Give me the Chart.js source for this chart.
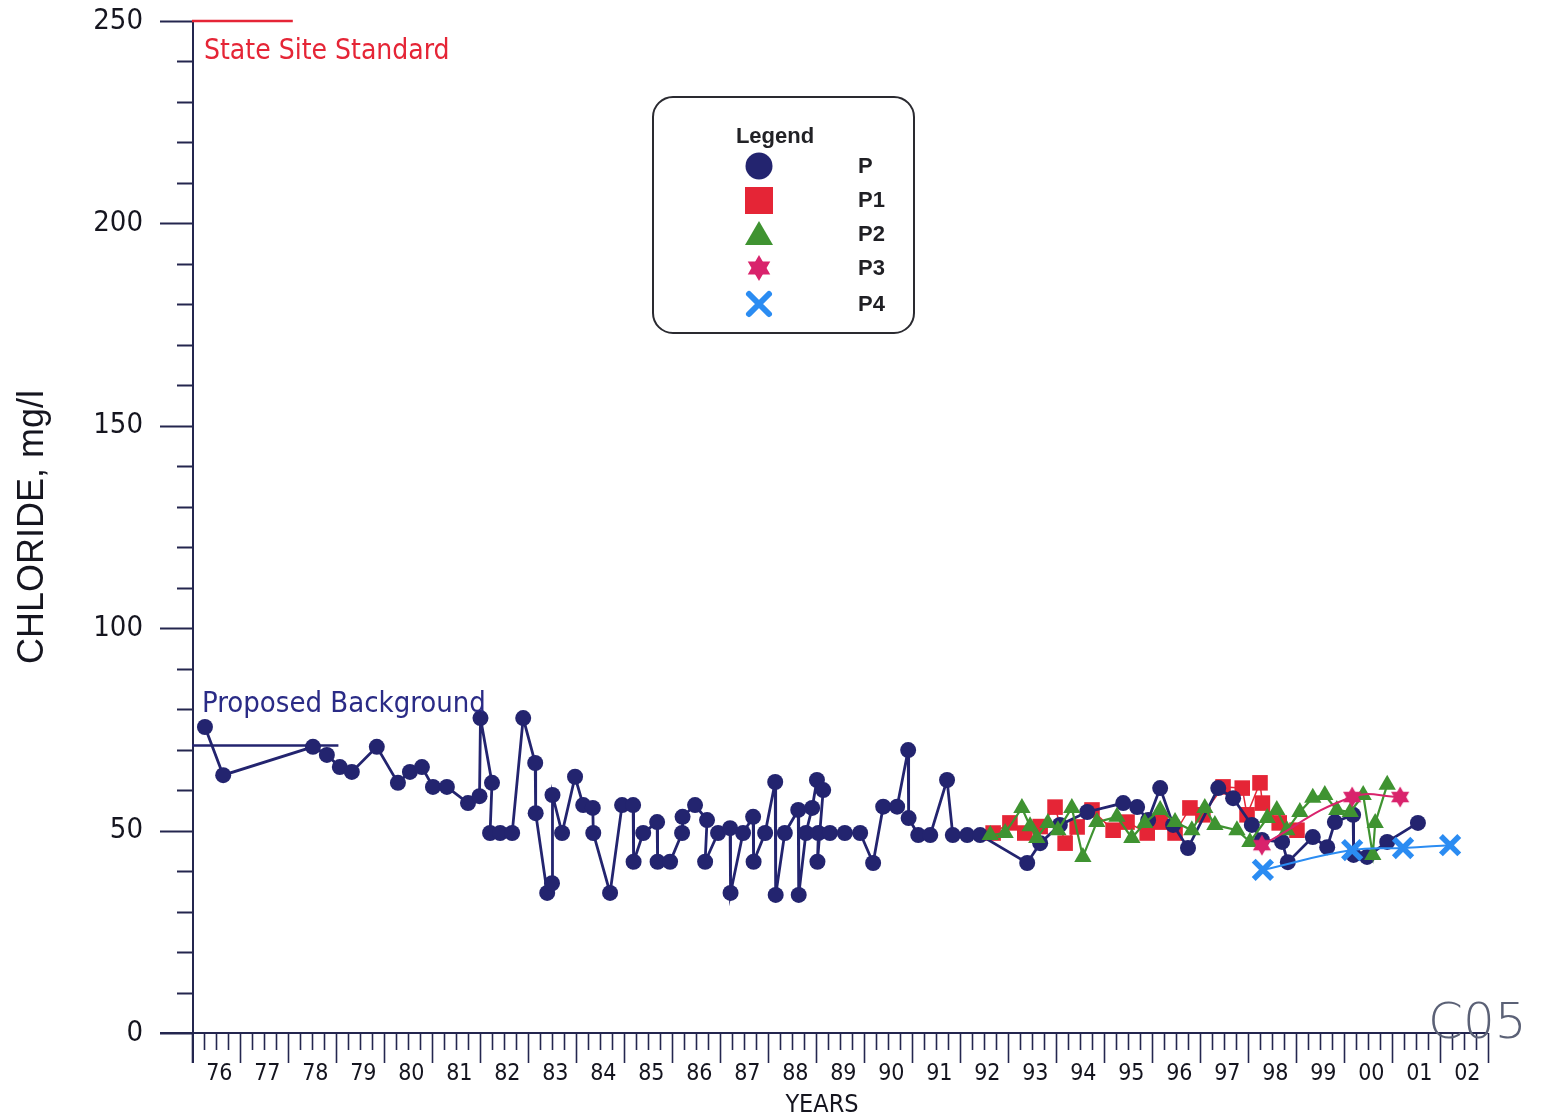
<!DOCTYPE html>
<html>
<head>
<meta charset="utf-8">
<title>Chloride trend</title>
<script src="https://cdn.jsdelivr.net/npm/chart.js@4.4.1/dist/chart.umd.min.js"></script>
<style>
  html, body { margin: 0; padding: 0; background: #ffffff; }
  #wrap { width: 1546px; height: 1119px; position: relative; }
  canvas { display: block; }
</style>
</head>
<body>
<div id="wrap"><canvas id="chart" width="1546" height="1119"></canvas></div>
<script>
// ---- Year axis ----
const yearStart = 1976;
const yearEnd = 2003;
const yearLabels = ['76','77','78','79','80','81','82','83','84','85','86','87','88','89',
                    '90','91','92','93','94','95','96','97','98','99','00','01','02'];

// ---- Chloride axis ----
const chlorideMin = 0;
const chlorideMax = 250;
const chlorideLabels = [0, 50, 100, 150, 200, 250];

// ---- Reference lines ----
const standardYears = [1976, 1978.1];
const standardValues = [250, 250];
const backgroundYears = [1976, 1979.05];
const backgroundValues = [71, 71];

// ---- Well P (chloride, mg/l) ----
const pYears = [
  1976.27, 1976.65, 1978.52, 1978.81, 1979.08, 1979.33, 1979.85, 1980.29, 1980.54, 1980.79,
  1981.02, 1981.31, 1981.75, 1981.99, 1982.01, 1982.25, 1982.21, 1982.42, 1982.67, 1982.90,
  1983.15, 1983.16, 1983.40, 1983.50, 1983.51, 1983.71, 1983.98, 1984.15, 1984.35, 1984.36,
  1984.71, 1984.96, 1985.19, 1985.20, 1985.40, 1985.69, 1985.70, 1985.96, 1986.21, 1986.22,
  1986.48, 1986.73, 1986.69, 1986.96, 1987.21, 1987.22, 1987.48, 1987.69, 1987.70, 1987.94,
  1988.15, 1988.16, 1988.35, 1988.63, 1988.64, 1988.79, 1988.92, 1989.02, 1989.15, 1989.03,
  1989.05, 1989.29, 1989.60, 1989.92, 1990.19, 1990.40, 1990.69, 1990.92, 1990.93, 1991.13,
  1991.38, 1991.73, 1991.85, 1992.15, 1992.42, 1993.40, 1993.67, 1994.08, 1994.65, 1995.40,
  1995.69, 1995.92, 1996.17, 1996.44, 1996.75, 1997.38, 1997.69, 1998.08, 1998.29, 1998.71,
  1998.83, 1999.35, 1999.65, 1999.81, 2000.19, 2000.20, 2000.48, 2000.90, 2001.54
];
const pValues = [
  75.6, 63.7, 70.7, 68.7, 65.7, 64.5, 70.7, 61.8, 64.5, 65.7,
  60.8, 60.8, 56.8, 58.5, 77.8, 61.8, 49.4, 49.4, 49.4, 77.8,
  66.7, 54.3, 34.6, 37.0, 58.8, 49.4, 63.3, 56.3, 55.6, 49.4,
  34.6, 56.3, 56.3, 42.3, 49.4, 52.1, 42.3, 42.3, 49.4, 53.4,
  56.3, 52.6, 42.3, 49.4, 50.6, 34.6, 49.4, 53.4, 42.3, 49.4,
  62.0, 34.1, 49.4, 55.1, 34.1, 49.4, 55.6, 62.5, 60.0, 42.3,
  49.4, 49.4, 49.4, 49.4, 42.0, 55.9, 55.9, 69.9, 53.1, 48.9,
  48.9, 62.5, 48.9, 48.9, 48.9, 42.0, 46.9, 51.4, 54.6, 56.8,
  55.8, 52.6, 60.5, 51.4, 45.7, 60.5, 58.0, 51.4, 47.7, 47.2,
  42.2, 48.4, 45.9, 52.1, 53.9, 44.0, 43.5, 47.2, 51.9
];

// ---- Well P1 ----
const p1Years = [
  1992.69, 1993.04, 1993.35, 1993.67, 1993.98, 1994.19, 1994.44, 1994.75, 1995.19, 1995.48,
  1995.90, 1996.17, 1996.48, 1996.79, 1997.06, 1997.48, 1997.88, 1997.98, 1998.25, 1998.30,
  1998.65, 1999.02
];
const p1Values = [
  49.4, 51.9, 49.4, 51.0, 55.8, 46.9, 50.9, 55.1, 50.1, 52.1,
  49.4, 52.1, 49.4, 55.6, 53.9, 60.8, 60.5, 53.9, 61.8, 56.8,
  51.9, 50.1
];

// ---- Well P2 ----
const p2Years = [
  1992.63, 1992.94, 1993.29, 1993.46, 1993.60, 1993.83, 1994.04, 1994.33, 1994.56, 1994.85,
  1995.27, 1995.58, 1995.85, 1996.17, 1996.48, 1996.83, 1997.10, 1997.31, 1997.77, 1998.04,
  1998.40, 1998.60, 1998.81, 1999.08, 1999.35, 1999.60, 1999.85, 2000.13, 2000.40, 2000.60,
  2000.65, 2000.90
];
const p2Values = [
  48.9, 49.4, 55.6, 51.1, 48.2, 51.9, 50.1, 55.6, 43.5, 52.1,
  53.4, 48.2, 51.9, 55.1, 52.1, 50.1, 55.6, 51.4, 50.1, 47.2,
  53.1, 55.1, 50.1, 54.6, 58.1, 58.8, 55.1, 54.6, 58.8, 44.0,
  51.9, 61.3
];

// ---- Well P3 ----
const p3Years = [1998.29, 2000.17, 2001.17];
const p3Values = [46.4, 58.3, 58.3];

// ---- Well P4 ----
const p4Years = [1998.31, 2000.17, 2001.23, 2002.21];
const p4Values = [40.3, 45.2, 45.7, 46.4];

// ---- Colours and fonts ----
const navy = '#23246f';
const red = '#e52536';
const green = '#3f9331';
const pink = '#d9236c';
const blue = '#2b8cf2';
const axisColor = '#24264f';
const inkColor = '#15151f';
const condensed = '"DejaVu Sans Condensed", "DejaVu Sans", sans-serif';
const arial = '"Liberation Sans", Arial, sans-serif';

function pairs(xs, ys) { return xs.map((x, i) => ({ x: x, y: ys[i] })); }

// six-pointed filled star used as the P3 marker
function drawHexagram(c, cx, cy, r, color) {
  c.save();
  c.fillStyle = color;
  for (const rot of [-Math.PI / 2, Math.PI / 2]) {
    c.beginPath();
    for (let k = 0; k < 3; k++) {
      const a = rot + k * 2 * Math.PI / 3;
      const px = cx + r * Math.cos(a), py = cy + r * Math.sin(a);
      if (k === 0) c.moveTo(px, py); else c.lineTo(px, py);
    }
    c.closePath();
    c.fill();
  }
  c.restore();
}
const starMarker = document.createElement('canvas');
starMarker.width = 22; starMarker.height = 22;
drawHexagram(starMarker.getContext('2d'), 11, 11, 10.5, pink);

// axes, tick marks, notes and the legend panel
const frame = {
  id: 'frame',
  beforeDatasetsDraw(chart) {
    const c = chart.ctx, xs = chart.scales.x, ys = chart.scales.y;
    const x0 = xs.getPixelForValue(yearStart), x1 = xs.getPixelForValue(yearEnd);
    const yTop = ys.getPixelForValue(chlorideMax), yBot = ys.getPixelForValue(chlorideMin);
    c.save();
    c.strokeStyle = axisColor;
    c.lineWidth = 2;
    c.beginPath();
    // vertical axis
    c.moveTo(x0 + 1, yTop); c.lineTo(x0 + 1, yBot + 30);
    // horizontal axis
    c.moveTo(x0 - 32, yBot); c.lineTo(x1, yBot);
    // chloride ticks every 10
    for (let v = chlorideMin; v <= chlorideMax; v += 10) {
      const py = Math.round(ys.getPixelForValue(v)) + 0.5;
      const len = v % 50 === 0 ? 33 : 16;
      c.moveTo(x0 + 1 - len, py); c.lineTo(x0 + 1, py);
    }
    c.stroke();
    // quarter-year ticks
    c.lineWidth = 1.6;
    c.beginPath();
    for (let q = 0; q <= (yearEnd - yearStart) * 4; q++) {
      const px = Math.round(xs.getPixelForValue(yearStart + q / 4)) + 0.5;
      const len = q % 4 === 0 ? 30 : 17;
      c.moveTo(px, yBot); c.lineTo(px, yBot + len);
    }
    c.stroke();
    c.restore();
  },
  afterDraw(chart) {
    const c = chart.ctx, xs = chart.scales.x, ys = chart.scales.y;
    c.save();
    // axis titles
    c.fillStyle = inkColor;
    c.font = '25px ' + condensed;
    c.textAlign = 'center'; c.textBaseline = 'middle';
    c.fillText('YEARS', 822, 1105);
    c.save();
    c.translate(33, (ys.top + ys.bottom) / 2);
    c.rotate(-Math.PI / 2);
    c.font = '36px ' + arial;
    c.fillText('CHLORIDE, mg/l', 0, 0);
    c.restore();

    // reference line notes
    c.textAlign = 'left';
    c.font = '28px ' + condensed;
    c.fillStyle = red;
    c.fillText('State Site Standard', xs.getPixelForValue(yearStart) + 12, ys.getPixelForValue(chlorideMax) + 31);
    c.font = '29px ' + condensed;
    c.fillStyle = '#2a2b86';
    c.fillText('Proposed Background', xs.getPixelForValue(yearStart) + 10, ys.getPixelForValue(backgroundValues[0]) - 41);

    // sheet mark
    c.font = '200 50px "DejaVu Sans", sans-serif';
    c.fillStyle = '#5b6176';
    c.textBaseline = 'alphabetic';
    c.fillText('C05', 1428, 1038);

    // legend panel
    const bx = 653, by = 97, bw = 261, bh = 236, r = 20;
    c.beginPath();
    c.moveTo(bx + r, by);
    c.arcTo(bx + bw, by, bx + bw, by + bh, r);
    c.arcTo(bx + bw, by + bh, bx, by + bh, r);
    c.arcTo(bx, by + bh, bx, by, r);
    c.arcTo(bx, by, bx + bw, by, r);
    c.closePath();
    c.fillStyle = '#ffffff';
    c.fill();
    c.lineWidth = 2;
    c.strokeStyle = '#2a2a30';
    c.stroke();

    c.fillStyle = '#222226';
    c.font = 'bold 22px ' + arial;
    c.textAlign = 'center'; c.textBaseline = 'middle';
    c.fillText('Legend', 775, 137);

    const mx = 759;
    const rows = [166, 200, 234, 268, 304];
    // P
    c.fillStyle = navy;
    c.beginPath(); c.arc(mx, rows[0], 13.5, 0, Math.PI * 2); c.fill();
    // P1
    c.fillStyle = red;
    c.fillRect(mx - 14, rows[1] - 13, 28, 27);
    // P2
    c.fillStyle = green;
    c.beginPath();
    c.moveTo(mx, rows[2] - 13); c.lineTo(mx + 14, rows[2] + 11); c.lineTo(mx - 14, rows[2] + 11);
    c.closePath(); c.fill();
    // P3
    drawHexagram(c, mx, rows[3], 13, pink);
    // P4
    c.strokeStyle = blue; c.lineWidth = 6; c.lineCap = 'round';
    c.beginPath();
    c.moveTo(mx - 10, rows[4] - 10); c.lineTo(mx + 10, rows[4] + 10);
    c.moveTo(mx + 10, rows[4] - 10); c.lineTo(mx - 10, rows[4] + 10);
    c.stroke();

    c.fillStyle = '#1f1f24';
    c.font = 'bold 22px ' + arial;
    c.textAlign = 'left';
    const names = ['P', 'P1', 'P2', 'P3', 'P4'];
    names.forEach((n, i) => c.fillText(n, 858, rows[i] + 1));
    c.restore();
  }
};

new Chart(document.getElementById('chart').getContext('2d'), {
  type: 'line',
  data: {
    datasets: [
      { label: 'State Site Standard', data: pairs(standardYears, standardValues),
        borderColor: red, borderWidth: 2.5, pointRadius: 0, clip: false, order: 9 },
      { label: 'Proposed Background', data: pairs(backgroundYears, backgroundValues),
        borderColor: navy, borderWidth: 2.5, pointRadius: 0, clip: false, order: 8 },
      { label: 'P1', data: pairs(p1Years, p1Values),
        borderColor: red, backgroundColor: red, borderWidth: 1.5,
        pointStyle: 'rect', pointRadius: 11, pointBorderWidth: 0, order: 5 },
      { label: 'P', data: pairs(pYears, pValues),
        borderColor: navy, backgroundColor: navy, borderWidth: 2.8,
        pointStyle: 'circle', pointRadius: 8, pointBorderWidth: 0, order: 4 },
      { label: 'P2', data: pairs(p2Years, p2Values),
        borderColor: green, backgroundColor: green, borderWidth: 2.2,
        pointStyle: 'triangle', pointRadius: 10, pointBorderWidth: 0, order: 3 },
      { label: 'P3', data: pairs(p3Years, p3Values),
        borderColor: pink, backgroundColor: pink, borderWidth: 2,
        pointStyle: starMarker, tension: 0.45, order: 2 },
      { label: 'P4', data: pairs(p4Years, p4Values),
        borderColor: blue, backgroundColor: blue, borderWidth: 2,
        pointStyle: 'crossRot', pointRadius: 13, pointBorderWidth: 5.5, pointBorderColor: blue,
        tension: 0.45, order: 1 }
    ]
  },
  options: {
    responsive: false,
    animation: false,
    events: [],
    layout: { padding: { top: 21, right: 58, left: 0, bottom: 0 } },
    plugins: { legend: { display: false }, tooltip: { enabled: false } },
    scales: {
      x: {
        type: 'linear', min: yearStart, max: yearEnd,
        grid: { display: false, drawTicks: false },
        border: { display: false },
        afterFit(s) { s.height = 86; s.paddingLeft = 0; s.paddingRight = 0; },
        afterBuildTicks(s) { s.ticks = yearLabels.map((l, i) => ({ value: yearStart + i + 0.57 })); },
        ticks: {
          autoSkip: false, maxRotation: 0, minRotation: 0, padding: 27,
          color: inkColor, font: { family: condensed, size: 23 },
          callback: (v, i) => yearLabels[i]
        }
      },
      y: {
        type: 'linear', min: chlorideMin, max: chlorideMax,
        grid: { display: false, drawTicks: false },
        border: { display: false },
        afterFit(s) { s.width = 192; s.paddingTop = 0; s.paddingBottom = 0; },
        afterBuildTicks(s) { s.ticks = chlorideLabels.map(v => ({ value: v })); },
        ticks: {
          padding: 49, color: inkColor, font: { family: condensed, size: 29 },
          callback: v => String(v)
        }
      }
    }
  },
  plugins: [frame]
});
</script>
</body>
</html>
